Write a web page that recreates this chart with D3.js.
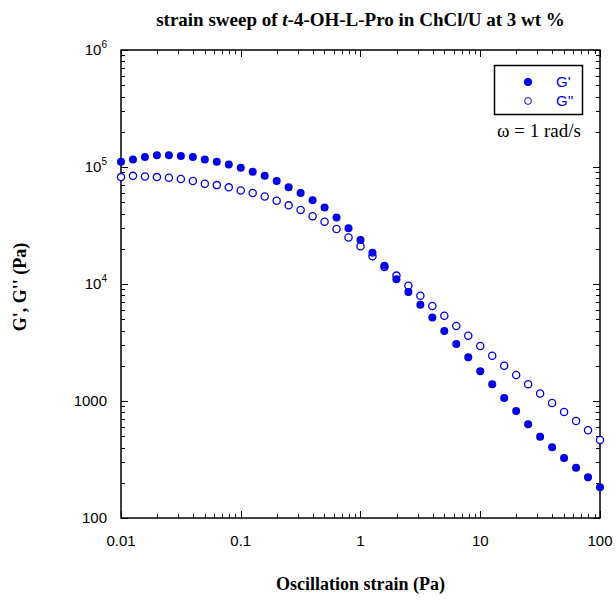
<!DOCTYPE html>
<html>
<head>
<meta charset="utf-8">
<script src="https://cdn.jsdelivr.net/npm/d3@7/dist/d3.min.js"></script>
<style>
  body { margin: 0; background: #fff; }
  svg { display: block; }
</style>
</head>
<body>
<svg id="chart" width="616" height="603"></svg>
<script>
/* G' / G'' strain sweep, log-log, 10 points per decade */

const STRAIN_EXP = d3.range(-2, 2.0001, 0.1); // exponents of the strain values
const STRAIN = STRAIN_EXP.map((e) => Math.pow(10, e));

const G_STORAGE = [
  111000, 116000, 122000, 126000, 126000, 124000, 122000, 116000, 111000, 105000,
  98700, 91000, 84000, 76000, 67000, 60000, 52000, 45000, 37000, 30000,
  23800, 18500, 14300, 11000, 8550, 6660, 5160, 3970, 3070, 2360,
  1800, 1390, 1060, 822, 633, 496, 402, 326, 269, 223, 183,
];

const G_LOSS = [
  82000, 84000, 83000, 82000, 81000, 79000, 76000, 72000, 70000, 67000,
  63000, 60000, 56000, 51500, 47000, 43000, 38000, 34000, 29500, 25000,
  21000, 17300, 14000, 11800, 9670, 7940, 6490, 5360, 4380, 3620,
  2950, 2440, 2000, 1670, 1390, 1160, 962, 806, 675, 562, 465,
];

const X_TICKS = [0.01, 0.1, 1, 10, 100];
const X_TICK_LABELS = ["0.01", "0.1", "1", "10", "100"];
const Y_TICKS = [1e6, 1e5, 1e4, 1000, 100];
const Y_TICK_LABELS = [["10", "6"], ["10", "5"], ["10", "4"], ["1000", ""], ["100", ""]];

const BLUE = "#0000e6";
const SERIF = "'Liberation Serif', 'Times New Roman', serif";
const SANS = "'Liberation Sans', Arial, sans-serif";

const margin = { left: 121, right: 16, top: 50, bottom: 85 };
const width = 616, height = 603;

const x = d3.scaleLog().domain([0.01, 100]).range([margin.left, width - margin.right]);
const y = d3.scaleLog().domain([100, 1e6]).range([height - margin.bottom, margin.top]);

const svg = d3.select("#chart");

// minor + major ticks (inward on all four sides)
function logTicks(scale) {
  const [a, b] = scale.domain();
  const out = [];
  for (let e = Math.round(Math.log10(a)); e < Math.round(Math.log10(b)); e++) {
    for (let m = 1; m < 10; m++) out.push({ v: m * Math.pow(10, e), major: m === 1 });
  }
  out.push({ v: b, major: true });
  return out;
}

const MAJOR = 7, MINOR = 4;
const [x0, x1] = x.range();
const [y0, y1] = y.range(); // y0 bottom, y1 top

const ticks = svg.append("g").attr("stroke", "#000").attr("stroke-width", 1);
logTicks(x).forEach((t) => {
  const len = t.major ? MAJOR : MINOR;
  const px = Math.round(x(t.v)) + 0.5;
  ticks.append("line").attr("x1", px).attr("x2", px).attr("y1", y0).attr("y2", y0 - len);
  ticks.append("line").attr("x1", px).attr("x2", px).attr("y1", y1).attr("y2", y1 + len);
});
logTicks(y).forEach((t) => {
  const len = t.major ? MAJOR : MINOR;
  const py = Math.round(y(t.v)) + 0.5;
  ticks.append("line").attr("x1", x0).attr("x2", x0 + len).attr("y1", py).attr("y2", py);
  ticks.append("line").attr("x1", x1).attr("x2", x1 - len).attr("y1", py).attr("y2", py);
});

// frame
svg.append("rect")
  .attr("x", x0).attr("y", y1)
  .attr("width", x1 - x0).attr("height", y0 - y1)
  .attr("fill", "none").attr("stroke", "#000").attr("stroke-width", 1.5);

// tick labels
svg.append("g").selectAll("text")
  .data(X_TICKS)
  .join("text")
  .attr("x", (d) => x(d))
  .attr("y", y0 + 28)
  .attr("text-anchor", "middle")
  .attr("font-family", SANS)
  .attr("font-size", 15)
  .text((d, i) => X_TICK_LABELS[i]);

const yl = svg.append("g").selectAll("text")
  .data(Y_TICKS)
  .join("text")
  .attr("x", x0 - 14)
  .attr("y", (d) => y(d) + 5)
  .attr("text-anchor", "end")
  .attr("font-family", SANS)
  .attr("font-size", 15);
yl.each(function (d, i) {
  const [base, sup] = Y_TICK_LABELS[i];
  const t = d3.select(this);
  t.append("tspan").text(base);
  if (sup) t.append("tspan").attr("dy", -7).attr("font-size", 10).text(sup);
});

// data
const plot = svg.append("g");
plot.selectAll("circle.loss")
  .data(G_LOSS)
  .join("circle")
  .attr("class", "loss")
  .attr("cx", (d, i) => x(STRAIN[i]))
  .attr("cy", (d) => y(d))
  .attr("r", 3.6)
  .attr("fill", "#fff")
  .attr("stroke", BLUE)
  .attr("stroke-width", 1.3);

plot.selectAll("circle.storage")
  .data(G_STORAGE)
  .join("circle")
  .attr("class", "storage")
  .attr("cx", (d, i) => x(STRAIN[i]))
  .attr("cy", (d) => y(d))
  .attr("r", 4)
  .attr("fill", BLUE);

// legend
const lg = svg.append("g");
lg.append("rect")
  .attr("x", 494.5).attr("y", 65.5).attr("width", 88).attr("height", 49)
  .attr("fill", "#fff").attr("stroke", "#000").attr("stroke-width", 1.5);
lg.append("circle").attr("cx", 528).attr("cy", 82).attr("r", 4).attr("fill", BLUE);
lg.append("circle").attr("cx", 528).attr("cy", 101).attr("r", 3.4)
  .attr("fill", "#fff").attr("stroke", BLUE).attr("stroke-width", 1);
lg.append("text").attr("x", 556).attr("y", 87)
  .attr("font-family", SANS).attr("font-size", 15).attr("fill", BLUE).text("G'");
lg.append("text").attr("x", 556).attr("y", 106)
  .attr("font-family", SANS).attr("font-size", 15).attr("fill", BLUE).text("G''");
lg.append("text").attr("x", 497).attr("y", 137)
  .attr("font-family", SERIF).attr("font-size", 19).text("ω = 1 rad/s");

// titles
const title = svg.append("text")
  .attr("x", (x0 + x1) / 2).attr("y", 26)
  .attr("text-anchor", "middle")
  .attr("font-family", SERIF).attr("font-weight", "bold").attr("font-size", 19);
title.append("tspan").text("strain sweep of ");
title.append("tspan").attr("font-style", "italic").text("t");
title.append("tspan").text("-4-OH-L-Pro in ChCl/U at 3 wt %");

svg.append("text")
  .attr("x", (x0 + x1) / 2).attr("y", 590)
  .attr("text-anchor", "middle")
  .attr("font-family", SERIF).attr("font-weight", "bold").attr("font-size", 18)
  .text("Oscillation strain (Pa)");

svg.append("text")
  .attr("transform", `translate(26, ${(y0 + y1) / 2 + 3}) rotate(-90)`)
  .attr("text-anchor", "middle")
  .attr("font-family", SERIF).attr("font-weight", "bold").attr("font-size", 18)
  .text("G', G'' (Pa)");
</script>
</body>
</html>
